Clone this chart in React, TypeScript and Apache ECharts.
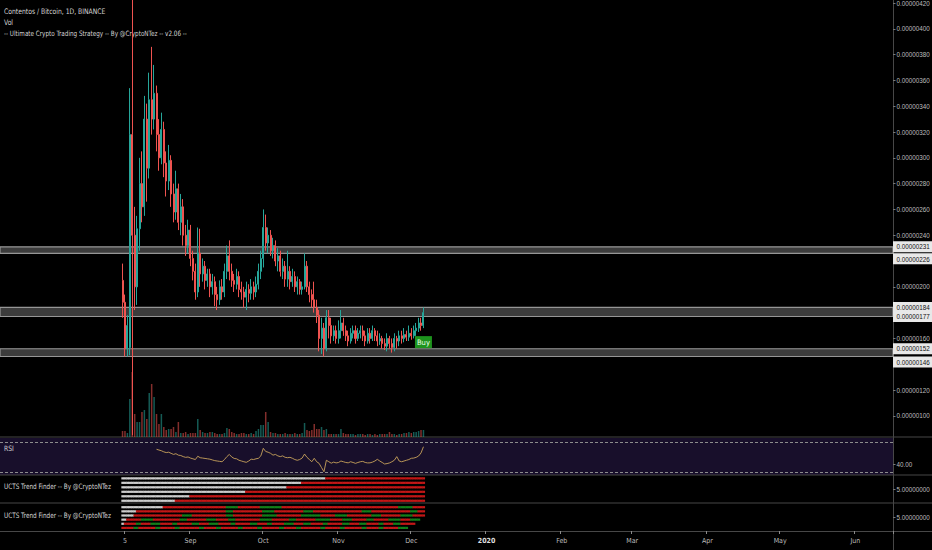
import React, { useEffect, useRef } from "react";
import * as echarts from "echarts";

// ---------- axis calendar ----------
const AXIS_START = [2019, 5, 15]; // 2019-06-15 (UTC, month 0-based)
const AXIS_DAYS = 368;
const FIRST_CANDLE_DATE = "2019-08-04";

// ---------- daily candles (price in satoshi, 1e-8 BTC) ----------
const opens = [
  205, 188, 152, 153, 318, 240, 200, 245, 280, 262,
  330, 292, 345, 330, 350, 318, 300, 322, 296, 282,
  298, 272, 258, 276, 250, 262, 240, 232, 244, 222,
  212, 196, 226, 210, 216, 205, 210, 200, 204, 194,
  190, 200, 196, 212, 224, 212, 205, 202, 208, 198,
  196, 192, 198, 195, 200, 196, 202, 212, 222, 246,
  234, 240, 228, 232, 220, 224, 212, 216, 206, 212,
  204, 208, 200, 204, 198, 200, 216, 200, 194, 190,
  184, 178, 160, 168, 152, 176, 170, 162, 166, 160,
  166, 172, 166, 162, 158, 164, 166, 160, 164, 166,
  162, 158, 164, 160, 166, 162, 158, 160, 156, 154,
  160, 156, 153, 160, 158, 162, 160, 163, 161, 164,
  162, 166, 168, 172, 170,
];
const closes = [
  188, 152, 170, 318, 240, 200, 245, 280, 262, 330,
  292, 345, 330, 350, 318, 300, 322, 296, 282, 298,
  272, 258, 276, 250, 262, 240, 232, 244, 222, 212,
  196, 226, 210, 216, 205, 210, 200, 204, 194, 190,
  200, 196, 212, 224, 212, 205, 202, 208, 198, 196,
  192, 198, 195, 200, 196, 202, 212, 222, 246, 234,
  240, 228, 232, 220, 224, 212, 216, 206, 212, 204,
  208, 200, 204, 198, 200, 216, 200, 194, 190, 184,
  178, 160, 168, 152, 176, 170, 162, 166, 160, 166,
  172, 166, 162, 158, 164, 166, 160, 164, 166, 162,
  158, 164, 160, 166, 162, 158, 160, 156, 154, 160,
  156, 153, 160, 158, 162, 160, 163, 161, 164, 162,
  166, 168, 172, 170, 180,
];
const lows = [
  176, 146, 146, 147, 85, 182, 186, 228, 250, 255,
  266, 284, 318, 322, 305, 290, 295, 285, 270, 275,
  262, 250, 252, 244, 240, 232, 224, 226, 216, 205,
  190, 192, 200, 204, 198, 200, 192, 194, 185, 182,
  186, 190, 192, 206, 205, 200, 196, 198, 192, 190,
  184, 182, 188, 190, 190, 192, 198, 206, 215, 228,
  226, 224, 222, 216, 212, 208, 206, 200, 200, 198,
  200, 196, 194, 194, 194, 198, 196, 188, 184, 180,
  172, 150, 148, 146, 150, 160, 156, 158, 156, 156,
  160, 162, 158, 154, 156, 160, 156, 158, 160, 158,
  154, 156, 156, 158, 158, 154, 155, 152, 151, 150,
  152, 149, 150, 152, 154, 156, 157, 158, 158, 159,
  160, 162, 165, 166, 168,
];
const highs = [
  218, 194, 178, 354, 440, 262, 255, 300, 305, 348,
  342, 366, 386, 372, 356, 330, 335, 328, 305, 310,
  302, 280, 290, 280, 272, 268, 248, 252, 248, 228,
  218, 246, 245, 222, 220, 214, 214, 210, 208, 200,
  205, 206, 218, 232, 236, 218, 210, 214, 212, 204,
  200, 204, 202, 206, 204, 208, 218, 228, 260, 256,
  246, 244, 238, 236, 230, 228, 222, 220, 228, 216,
  214, 212, 208, 206, 204, 226, 220, 204, 198, 204,
  190, 182, 176, 172, 182, 182, 176, 170, 170, 174,
  182, 176, 170, 166, 168, 170, 170, 168, 170, 170,
  166, 168, 168, 170, 168, 166, 164, 162, 160, 164,
  162, 160, 164, 162, 166, 166, 168, 166, 170, 168,
  170, 172, 176, 176, 184,
];
const volumes = [
  60, 60, 40, 380, 650, 230, 150, 150, 250, 270,
  180, 440, 530, 400, 230, 130, 230, 100, 70, 80,
  80, 100, 50, 150, 40, 40, 50, 30, 40, 40,
  40, 180, 70, 50, 40, 40, 50, 50, 40, 30,
  30, 30, 40, 90, 80, 50, 40, 30, 30, 40,
  40, 30, 30, 40, 30, 60, 80, 120, 120, 250,
  150, 50, 40, 40, 30, 30, 30, 40, 30, 30,
  30, 40, 30, 30, 40, 140, 70, 60, 70, 130,
  80, 80, 100, 70, 80, 30, 30, 30, 30, 30,
  80, 40, 30, 30, 30, 30, 20, 30, 30, 30,
  20, 30, 30, 20, 30, 20, 30, 30, 30, 30,
  50, 30, 30, 20, 30, 30, 40, 40, 50, 40,
  50, 50, 60, 70, 70,
];

// RSI(14), starts at candle index 14
const RSI_FIRST_CANDLE = 14;
const rsiValues = [
  61, 60, 59, 57.5, 56.5, 57, 55.5, 54, 55, 53,
  52.5, 51, 50, 50.5, 49, 48, 47, 51.5, 49.5, 49,
  48.5, 48, 47.5, 46.5, 45.5, 45, 44.5, 44, 47, 51,
  54, 50.5, 48.5, 48, 46, 45, 44, 43.2, 45, 47.5,
  47, 48, 48.7, 52, 62.3, 58, 57, 55.5, 53, 54,
  52, 51, 52, 50, 49.5, 50, 48.7, 47, 46, 47,
  49, 54.5, 50, 47, 44, 48.7, 44, 41.8, 36, 30.4,
  46, 44, 42, 43.5, 42.4, 43, 45, 44, 43, 42.5,
  44, 43, 41.8, 43, 44, 44.5, 43, 42.4, 42.5, 43.5,
  45, 47.3, 45, 43, 40.9, 41.5, 42.4, 44, 46, 51,
  45, 44, 45, 46, 47, 48.7, 49, 50, 51.8, 56, 64.5,
];
const RSI_UPPER = 70;
const RSI_LOWER = 30;

// support / resistance zones [low, high]
const zones = [
  [226, 231],
  [177, 184],
  [146, 152],
];
// highlighted price labels: [price, vertical alignment against the level]
const levelLabels: [number, string][] = [
  [231, "middle"],
  [226, "top"],
  [184, "middle"],
  [177, "middle"],
  [152, "middle"],
  [146, "top"],
];
const priceTicks = [100, 120, 160, 200, 240, 260, 280, 300, 320, 340, 360, 380, 400, 420];

const xLabels = [
  ["2019-08-05", "5"],
  ["2019-09-01", "Sep"],
  ["2019-10-01", "Oct"],
  ["2019-11-01", "Nov"],
  ["2019-12-01", "Dec"],
  ["2020-01-01", "2020"],
  ["2020-02-01", "Feb"],
  ["2020-03-01", "Mar"],
  ["2020-04-01", "Apr"],
  ["2020-05-01", "May"],
  ["2020-06-01", "Jun"],
];

// UCTS trend finder rows: run-lengths [state, days]; 0 neutral, 1 bearish, 2 bullish
const ucts1Rows = [
  [[0, 84], [1, 41]],
  [[0, 74], [1, 51]],
  [[0, 68], [1, 57]],
  [[0, 51], [1, 74]],
  [[0, 28], [1, 97]],
  [[0, 22], [1, 103]],
];
const ucts2Rows = [
  [[0, 17], [1, 26], [2, 5], [1, 9], [2, 9], [1, 48], [2, 6], [1, 5]],
  [[0, 6], [1, 37], [2, 3], [1, 12], [2, 5], [1, 12], [2, 4], [1, 20], [2, 4], [1, 16], [2, 3], [1, 3]],
  [[0, 5], [1, 20], [2, 4], [1, 14], [2, 3], [1, 12], [2, 6], [1, 10], [2, 8], [1, 6], [2, 5], [1, 10], [2, 4], [1, 8], [2, 5], [1, 5]],
  [[0, 2], [1, 6], [2, 5], [1, 11], [2, 3], [1, 8], [2, 4], [1, 5], [2, 3], [1, 10], [2, 5], [1, 7], [2, 3], [1, 8], [2, 6], [1, 5], [2, 4], [1, 6], [2, 3], [1, 6], [2, 5], [1, 4], [2, 4]],
  [[0, 1], [1, 5], [2, 2], [1, 4], [2, 4], [1, 5], [2, 2], [1, 6], [2, 3], [1, 4], [2, 4], [1, 5], [2, 2], [1, 6], [2, 3], [1, 4], [2, 2], [1, 5], [2, 4], [1, 4], [2, 3], [1, 5], [2, 2], [1, 6], [2, 3], [1, 4], [2, 3], [1, 5], [2, 2], [1, 4], [2, 3], [1, 6]],
  [[1, 5], [2, 2], [1, 7], [2, 2], [1, 6], [2, 2], [1, 8], [2, 2], [1, 5], [2, 2], [1, 7], [2, 2], [1, 6], [2, 2], [1, 7], [2, 2], [1, 5], [2, 2], [1, 8], [2, 2], [1, 6], [2, 2], [1, 7], [2, 2], [1, 5], [2, 2], [1, 6], [2, 4]],
];
const UCTS_VALUE = 5;

// ---------- styling ----------
const UP = "#26a69a";
const DOWN = "#ef5350";
const UCTS_COLORS = ["#cdcdcd", "#c41717", "#13801a"];
const FONT = "'DejaVu Sans Condensed', 'Liberation Sans', sans-serif";
const AXIS_FONT = "'Liberation Sans', 'Roboto', sans-serif";
const AXIS_FS = 6.3;
const TEXT = "#d6d6d6";
const AXIS_TEXT = "#bdbdbd";
const SEP = "#474747";

function buildDates() {
  const out: string[] = [];
  const t0 = Date.UTC(AXIS_START[0], AXIS_START[1], AXIS_START[2]);
  for (let i = 0; i < AXIS_DAYS; i++) {
    out.push(new Date(t0 + i * 86400000).toISOString().slice(0, 10));
  }
  return out;
}

function buildOption() {
  const dates = buildDates();
  const first = dates.indexOf(FIRST_CANDLE_DATE);
  const labelMap: Record<string, string> = {};
  xLabels.forEach(([d, t]) => (labelMap[d] = t));
  const showLabel = (_i: number, v: string) => labelMap[v] !== undefined;

  const candles = opens.map((o, i) => [first + i, o, closes[i], lows[i], highs[i]]);
  const vols = volumes.map((v, i) => ({
    value: [first + i, v],
    itemStyle: { color: closes[i] >= opens[i] ? "rgba(38,166,154,0.55)" : "rgba(239,83,80,0.55)" },
  }));
  const rsi = rsiValues.map((v, i) => [first + RSI_FIRST_CANDLE + i, v]);

  const rowsToData = (rows: number[][][], top: number, step: number) => {
    const data: number[][] = [];
    rows.forEach((row, r) => {
      let d = 0;
      row.forEach(([state, len]) => {
        for (let k = 0; k < len; k++) data.push([first + d + k, top - r * step, state]);
        d += len;
      });
    });
    return data;
  };

  const last = opens.length - 1;

  const gridBase = { left: 0, right: 39, containLabel: false, outerBoundsMode: "none", show: false };
  const grids = [
    { ...gridBase, top: 0, height: 437 },
    { ...gridBase, top: 360, height: 77 },
    { ...gridBase, top: 438, height: 37, show: true, backgroundColor: "#180f2b", borderWidth: 0 },
    { ...gridBase, top: 475, height: 28 },
    { ...gridBase, top: 503, height: 28 },
  ];

  const xAxes = grids.map((_, gi) => ({
    type: "category",
    gridIndex: gi,
    data: dates,
    boundaryGap: true,
    show: gi === 4,
    axisLine: { show: false },
    splitLine: { show: false },
    axisTick: {
      show: gi === 4,
      interval: showLabel,
      length: 3,
      lineStyle: { color: "#8a8a8a" },
    },
    axisLabel: {
      show: gi === 4,
      interval: showLabel,
      formatter: (v: string) => (labelMap[v] === "2020" ? "{b|2020}" : labelMap[v] || ""),
      color: AXIS_TEXT,
      fontSize: 7,
      fontFamily: FONT,
      margin: 6,
      rich: { b: { fontWeight: "bold", color: "#e0e0e0", fontSize: 7, fontFamily: FONT } },
    },
  }));

  const yBase = {
    type: "value",
    position: "right",
    splitLine: { show: false },
    axisLine: { show: false },
    scale: true,
  };
  const labelStyle = { color: AXIS_TEXT, fontSize: AXIS_FS, fontFamily: AXIS_FONT, margin: 3.5 };
  const yAxes = [
    {
      ...yBase,
      gridIndex: 0,
      min: 83.6,
      max: 422.33,
      axisTick: { show: true, customValues: priceTicks, length: 2.5, lineStyle: { color: "#777" } },
      axisLabel: { ...labelStyle, customValues: priceTicks, formatter: (v: number) => (v / 1e8).toFixed(8) },
    },
    { ...yBase, gridIndex: 1, min: 0, max: 770, show: false },
    {
      ...yBase,
      gridIndex: 2,
      min: 25.9,
      max: 76.4,
      axisTick: { show: true, customValues: [40], length: 2.5, lineStyle: { color: "#777" } },
      axisLabel: { ...labelStyle, customValues: [40], formatter: (v: number) => v.toFixed(2) },
    },
    ...[3, 4].map((gi) => ({
      ...yBase,
      gridIndex: gi,
      min: 0,
      max: 10,
      axisTick: { show: true, customValues: [UCTS_VALUE], length: 2.5, lineStyle: { color: "#777" } },
      axisLabel: { ...labelStyle, customValues: [UCTS_VALUE], formatter: (v: number) => v.toFixed(8) },
    })),
  ];

  const renderRow = (_p: any, api: any) => {
    const c = api.coord([api.value(0), api.value(1)]);
    const w = api.size([1, 0])[0];
    return {
      type: "rect",
      shape: { x: c[0] - w / 2, y: c[1] - 1.1, width: w + 0.4, height: 2.2 },
      style: { fill: UCTS_COLORS[api.value(2)] },
    };
  };

  const textEl = (x: number, y: number, text: string, size: number, sx: number) => ({
    type: "text",
    x,
    y,
    scaleX: sx,
    silent: true,
    style: { text, fill: TEXT, fontSize: size, fontFamily: FONT, verticalAlign: "middle", align: "left" },
  });
  const hLine = (y: number) => ({
    type: "line",
    silent: true,
    shape: { x1: 0, y1: y, x2: 932, y2: y },
    style: { stroke: SEP, lineWidth: 1 },
  });

  return {
    animation: false,
    backgroundColor: "#000000",
    grid: grids,
    xAxis: xAxes,
    yAxis: yAxes,
    series: [
      {
        type: "candlestick",
        xAxisIndex: 0,
        yAxisIndex: 0,
        data: candles,
        encode: { x: 0, y: [1, 2, 3, 4] },
        barWidth: "62%",
        clip: true,
        itemStyle: { color: UP, color0: DOWN, borderColor: UP, borderColor0: DOWN, borderWidth: 1 },
        markArea: {
          silent: true,
          itemStyle: { color: "rgba(120,120,120,0.5)", borderColor: "#969696", borderWidth: 1.2 },
          data: zones.map(([lo, hi]) => [{ yAxis: lo }, { yAxis: hi }]),
        },
        markLine: {
          silent: true,
          symbol: "none",
          lineStyle: { width: 0, color: "rgba(0,0,0,0)" },
          data: levelLabels.map(([v, va]) => ({ yAxis: v, label: { verticalAlign: va } })),
          label: {
            show: true,
            position: "end",
            distance: 0,
            formatter: (p: any) => (p.value / 1e8).toFixed(8),
            backgroundColor: "#e8e8e8",
            color: "#111",
            fontSize: AXIS_FS,
            fontFamily: AXIS_FONT,
            padding: [3, 6, 2, 3.5],
          },
        },
        markPoint: {
          silent: true,
          data: [
            {
              coord: [first + last, lows[last]],
              symbol: "rect",
              symbolSize: [17, 12],
              symbolOffset: [0, 14],
              itemStyle: { color: "#1d931d" },
              label: { show: true, formatter: "Buy", color: "#e8ffe8", fontSize: 7.5, fontFamily: FONT },
            },
          ],
        },
      },
      {
        type: "bar",
        xAxisIndex: 1,
        yAxisIndex: 1,
        data: vols,
        barWidth: "62%",
      },
      {
        type: "line",
        xAxisIndex: 2,
        yAxisIndex: 2,
        data: rsi,
        symbol: "none",
        lineStyle: { color: "#c9a45c", width: 0.9 },
        markLine: {
          silent: true,
          symbol: "none",
          label: { show: false },
          lineStyle: { color: "#8c8c8c", type: [3, 2], width: 1 },
          data: [{ yAxis: RSI_UPPER }, { yAxis: RSI_LOWER }],
        },
      },
      {
        type: "custom",
        xAxisIndex: 3,
        yAxisIndex: 3,
        renderItem: renderRow,
        data: rowsToData(ucts1Rows, 8.8, 1.6),
        silent: true,
      },
      {
        type: "custom",
        xAxisIndex: 4,
        yAxisIndex: 4,
        renderItem: renderRow,
        data: rowsToData(ucts2Rows, 8.5, 1.48),
        silent: true,
      },
    ],
    graphic: [
      hLine(437),
      hLine(475),
      hLine(503),
      hLine(531.5),
      {
        type: "line",
        silent: true,
        shape: { x1: 893.5, y1: 0, x2: 893.5, y2: 550 },
        style: { stroke: SEP, lineWidth: 1 },
      },
      textEl(4, 11, "Contentos / Bitcoin, 1D, BINANCE", 7.6, 0.89),
      textEl(4, 22.5, "Vol", 7.6, 0.89),
      textEl(4, 34, "-- Ultimate Crypto Trading Strategy -- By @CryptoNTez -- v2.06 --", 7.4, 0.85),
      textEl(4, 448, "RSI", 7.4, 0.9),
      textEl(4, 487, "UCTS Trend Finder -- By @CryptoNTez", 7.4, 0.86),
      textEl(4, 516, "UCTS Trend Finder -- By @CryptoNTez", 7.4, 0.86),
    ],
  };
}

export default function App() {
  const ref = useRef<HTMLDivElement>(null);
  useEffect(() => {
    if (!ref.current) return;
    const chart = echarts.init(ref.current, undefined, { renderer: "svg" });
    chart.setOption(buildOption() as any);
    return () => chart.dispose();
  }, []);
  return (
    <div
      ref={ref}
      style={{ position: "fixed", left: 0, top: 0, width: 932, height: 550, background: "#000" }}
    />
  );
}
